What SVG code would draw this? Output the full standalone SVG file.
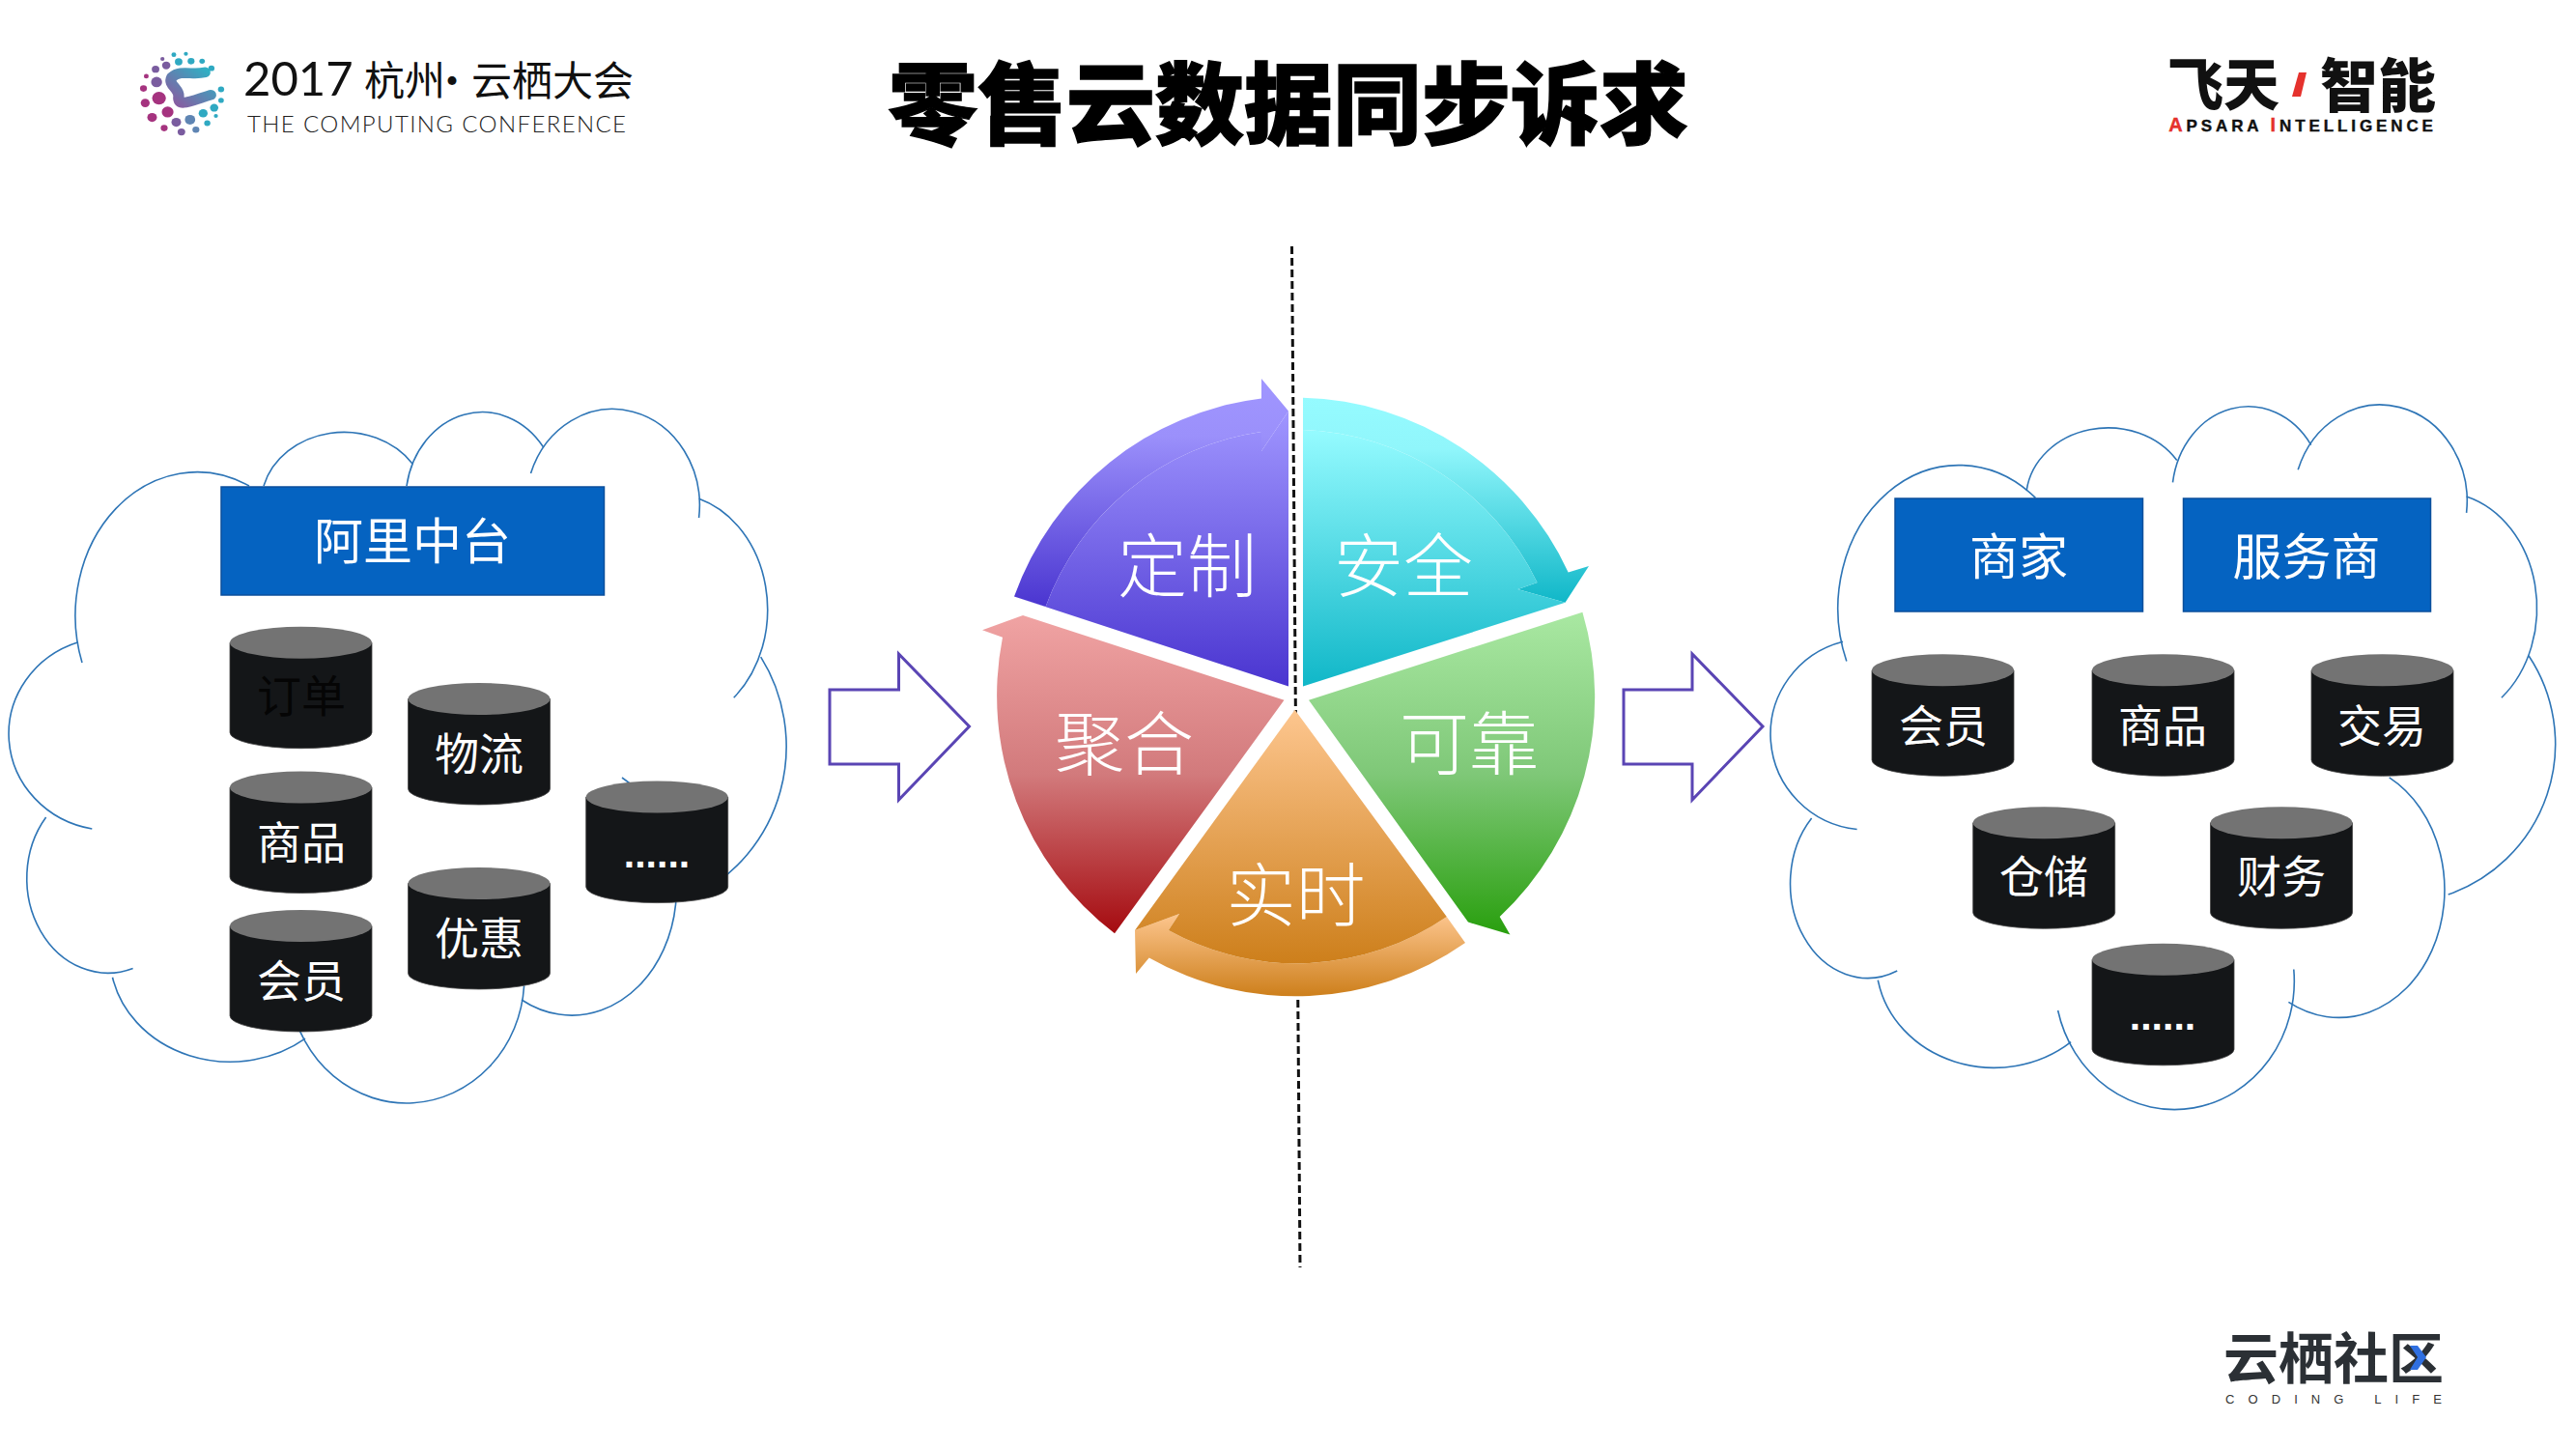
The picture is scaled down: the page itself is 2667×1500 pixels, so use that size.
<svg xmlns="http://www.w3.org/2000/svg" width="2667" height="1500" viewBox="0 0 2667 1500">
<style>
text{font-family:"Noto Sans CJK SC","Noto Sans",sans-serif;text-anchor:middle}
.cloudline{fill:none;stroke:#2e75b6;stroke-width:1.6}
.box{fill:#0563c1;stroke:#0b4f9c;stroke-width:1.5}
.boxt{font-size:51px;fill:#fff;dominant-baseline:central}
.cylt{font-size:46px;fill:#fff;dominant-baseline:central}
.pie{font-size:72px;fill:#fff;font-weight:300;dominant-baseline:central}
.arrow{fill:#fff;stroke:#5a45b4;stroke-width:3}
.dots{font-size:41px;fill:#fff;font-family:"Liberation Sans",sans-serif;font-weight:700}
</style>
<defs>
<g id="cyl"><path d="M0,16.5V109.5A73.5,16.5 0 0 0 147,109.5V16.5Z" fill="#141618" stroke="#444" stroke-width=".8"/><ellipse cx="73.5" cy="16.5" rx="73.5" ry="16.5" fill="#737373"/></g>
<linearGradient id="pA" x1="0" y1="0" x2="0" y2="1"><stop offset="0" stop-color="#a096ff"/><stop offset="1" stop-color="#4a35d0"/></linearGradient>
<linearGradient id="pA2" x1="0" y1="0" x2="0" y2="1"><stop offset="0" stop-color="#a096ff"/><stop offset=".25" stop-color="#9b90fb"/><stop offset="1" stop-color="#4a35d0"/></linearGradient>
<linearGradient id="pB" x1="0" y1="0" x2="0" y2="1"><stop offset="0" stop-color="#95fbff"/><stop offset="1" stop-color="#10b7c8"/></linearGradient>
<linearGradient id="pB2" x1="0" y1="0" x2="0" y2="1"><stop offset="0" stop-color="#95fbff"/><stop offset=".25" stop-color="#90f6fb"/><stop offset="1" stop-color="#10b7c8"/></linearGradient>
<linearGradient id="pC" x1="0" y1="0" x2="0" y2="1"><stop offset="0" stop-color="#a9e8a2"/><stop offset=".5" stop-color="#7fc878"/><stop offset="1" stop-color="#299f0e"/></linearGradient>
<linearGradient id="pD" x1="0" y1="0" x2="0" y2="1"><stop offset="0" stop-color="#fdc68f"/><stop offset="1" stop-color="#cd7f1b"/></linearGradient>
<linearGradient id="pE" x1="0" y1="0" x2="0" y2="1"><stop offset="0" stop-color="#f0a3a3"/><stop offset=".5" stop-color="#d27a7c"/><stop offset="1" stop-color="#a50b10"/></linearGradient>
<linearGradient id="lg" x1="0" y1="1" x2="1" y2="0"><stop offset="0" stop-color="#8a5aa0"/><stop offset="1" stop-color="#2fb0c4"/></linearGradient>
</defs>
<rect width="2667" height="1500" fill="#fff"/>

<g id="logo-conference">
<g transform="translate(120,30) scale(.357,.333)">
<path d="M258,135C220,145 190,125 162,150C150,175 185,185 182,210C178,245 215,225 275,205" fill="none" stroke="url(#lg)" stroke-width="32" stroke-linecap="round" stroke-linejoin="round"/>
<g fill="#2fa9c2"><circle cx="168" cy="80" r="7"/><circle cx="203" cy="77" r="6"/><circle cx="182" cy="102" r="11"/><circle cx="218" cy="100" r="10"/><circle cx="250" cy="100" r="8"/><circle cx="277" cy="122" r="9"/><circle cx="305" cy="188" r="9"/><circle cx="305" cy="222" r="8"/><circle cx="285" cy="245" r="12"/><circle cx="253" cy="262" r="13"/><circle cx="290" cy="270" r="6"/><circle cx="265" cy="293" r="9"/></g>
<g fill="#a5337f"><circle cx="88" cy="147" r="7"/><circle cx="80" cy="185" r="10"/><circle cx="125" cy="215" r="20"/><circle cx="85" cy="230" r="13"/><circle cx="150" cy="258" r="17"/><circle cx="105" cy="275" r="14"/><circle cx="140" cy="308" r="10"/></g>
<g fill="#7a5c9f"><circle cx="135" cy="93" r="6"/><circle cx="146" cy="113" r="12"/><circle cx="115" cy="125" r="11"/><circle cx="118" cy="165" r="16"/><circle cx="175" cy="290" r="14"/><circle cx="190" cy="320" r="11"/></g>
<g fill="#5f85b3"><circle cx="215" cy="282" r="15"/><circle cx="232" cy="313" r="10"/></g>
</g>
<text y="99" font-size="42" fill="#111" style="text-anchor:start"><tspan x="252" font-size="49" style="font-family:Lato,sans-serif" font-weight="400">2017</tspan><tspan x="377">杭州</tspan><tspan x="447">·</tspan><tspan x="488">云栖大会</tspan></text>
<text x="452" y="137" font-size="24" fill="#222" font-weight="300" textLength="392" style="font-family:Lato,sans-serif">THE COMPUTING CONFERENCE</text>
</g>

<text id="title" x="1334" y="101" font-size="92" font-weight="900" fill="#000" stroke="#000" stroke-width="1.5" dominant-baseline="central">零售云数据同步诉求</text>

<g id="logo-apsara">
<text x="2302" y="84" font-size="58" font-weight="900" fill="#111" dominant-baseline="central">飞天</text>
<polygon points="2380,75 2388,75 2382,100 2373,100" fill="#e5322d"/>
<text x="2462" y="84" font-size="60" font-weight="900" fill="#111" dominant-baseline="central">智能</text>
<text x="2384" y="136" font-size="17" font-weight="700" fill="#111" stroke="#111" stroke-width=".4" style="font-family:'Liberation Sans',sans-serif" letter-spacing="3.9"><tspan fill="#e5322d" stroke="#e5322d" font-size="20">A</tspan>PSARA <tspan fill="#e5322d" stroke="#e5322d" font-size="20">I</tspan>NTELLIGENCE</text>
</g>

<g id="logo-yunqi">
<text x="2416" y="1402" font-size="57" font-weight="700" fill="#2b3035" dominant-baseline="central">云栖社区</text>
<polygon points="2495,1393 2503,1393 2512,1405 2503,1418 2495,1418 2503,1405" fill="#2f6fe0"/>
<text x="2416" y="1453" font-size="13" fill="#333" style="font-family:'Liberation Sans',sans-serif" textLength="224">CODING LIFE</text>
</g>

<g id="connectors">
<line x1="1337.5" y1="255" x2="1346" y2="1312" stroke="#111" stroke-width="3" stroke-dasharray="8 4"/>
<path id="arrow-left" class="arrow" d="M859,714H930.5V677L1003.5,752L930.5,828V791H859Z"/>
<path id="arrow-right" class="arrow" d="M1681,714H1752V677L1825,752L1752,828V791H1681Z"/>
</g>

<g id="cloud-left" class="cloudline">
<path d="M85,686A126,148.5 0 0 1 258,503"/>
<path d="M273,503A86,75 0 0 1 427,480"/>
<path d="M421,503A79.5,92 0 0 1 562.7,463"/>
<path d="M549.5,490A90,100 0 0 1 723.6,536"/>
<path d="M723.7,516.3A100,120 0 0 1 759.7,722.3"/>
<path d="M787.7,680.2A164,170 0 0 1 721,926"/>
<path d="M644,805A107.5,130 0 1 1 540,1035"/>
<path d="M542.6,1020.5A122,130 0 0 1 300.8,1035"/>
<path d="M316,1075.2A124.5,110 0 0 1 116.5,1011.7"/>
<path d="M137.6,1002.5A84,98 0 0 1 47.6,846"/>
<path d="M95.3,858A105,100 0 0 1 81,664.7"/>
</g>

<g id="cloud-right" class="cloudline">
<path d="M1911.8,684.5A125,148 0 0 1 2107.4,515.4"/>
<path d="M2098.2,507.6A85,74 0 0 1 2253.8,476.6"/>
<path d="M2249.5,499.4A79,92 0 0 1 2392.7,460.6"/>
<path d="M2379.2,486.3A90,100 0 0 1 2553.6,530.9"/>
<path d="M2553.6,513.9A100,120 0 0 1 2589.9,722.3"/>
<path d="M2618,678.7A165,165 0 0 1 2534.7,926"/>
<path d="M2473.7,804.8A107.5,130 0 1 1 2369.4,1037.4"/>
<path d="M2374.8,1003.5A124,133 0 0 1 2130.6,1046"/>
<path d="M2144.1,1078.6A122,110 0 0 1 1944.3,1014.6"/>
<path d="M1964.2,1005A80,98 0 0 1 1875.6,846.9"/>
<path d="M1922.6,858.5A100,99 0 0 1 1908,664.2"/>
</g>

<g id="pie">
<g id="seg-dingzhi">
<path fill="url(#pA2)" d="M1050,617.6A312,312 0 0 1 1306,412.5L1306,392L1334,425.5L1306,467L1306,447A280,280 0 0 0 1082.6,628Z"/>
<path fill="url(#pA)" d="M1334,710.4L1050,617.6L1082.6,628A280,280 0 0 1 1306,447L1306,467L1334,425.5Z"/>
<text class="pie" x="1229" y="580">定制</text>
</g>
<g id="seg-anquan">
<path fill="url(#pB2)" d="M1349,411.7A312,312 0 0 1 1623.7,592.5L1645,586L1620.5,623.7L1571.4,610L1591.5,603A280,280 0 0 0 1349,445Z"/>
<path fill="url(#pB)" d="M1349,710.4L1349,445A280,280 0 0 1 1591.5,603L1571.4,610L1620.5,623.7Z"/>
<text class="pie" x="1453" y="580">安全</text>
</g>
<g id="seg-kekao">
<path fill="url(#pC)" d="M1355,724.8L1638.4,633.7A311,311 0 0 1 1552.7,949L1563.4,967.6L1520,954.6Z"/>
<text class="pie" x="1521" y="764">可靠</text>
</g>
<g id="seg-shishi">
<path fill="url(#pD)" d="M1497.8,949L1517,976A307,307 0 0 1 1189.7,991.4L1176,1008L1175,963L1221,946L1209.8,963A274,274 0 0 0 1497.8,949Z"/>
<path fill="url(#pD)" d="M1340.6,734.7L1497.8,949A274,274 0 0 1 1209.8,963L1221,946L1175,963Z"/>
<text class="pie" x="1341.5" y="921">实时</text>
</g>
<g id="seg-juhe">
<path fill="url(#pE)" d="M1329.5,724.8L1059,637L1017,652.3L1038,659.7A310,310 0 0 0 1154,966.3Z"/>
<text class="pie" x="1164" y="764">聚合</text>
</g>
</g>

<g id="n-alibaba"><rect class="box" x="229" y="504" width="396.5" height="112"/><text class="boxt" x="427" y="557">阿里中台</text></g>
<g id="n-l-order"><use href="#cyl" x="238" y="648.7"/><text class="cylt" x="312" y="717" style="fill:#050505">订单</text></g>
<g id="n-l-logistics"><use href="#cyl" x="422.5" y="707"/><text class="cylt" x="496" y="776.5">物流</text></g>
<g id="n-l-goods"><use href="#cyl" x="238" y="798.5"/><text class="cylt" x="312" y="868.5">商品</text></g>
<g id="n-l-member"><use href="#cyl" x="238" y="942"/><text class="cylt" x="312" y="1012">会员</text></g>
<g id="n-l-promo"><use href="#cyl" x="422.5" y="898"/><text class="cylt" x="496" y="967.5">优惠</text></g>
<g id="n-l-more"><use href="#cyl" x="606.7" y="808.6"/><text class="dots" x="680" y="898">......</text></g>

<g id="n-merchant"><rect class="box" x="1962" y="516" width="256.5" height="117"/><text class="boxt" x="2090" y="572.5">商家</text></g>
<g id="n-provider"><rect class="box" x="2260.5" y="516" width="256" height="117"/><text class="boxt" x="2388" y="572.5">服务商</text></g>
<g id="n-r-member"><use href="#cyl" x="1938" y="677.3"/><text class="cylt" x="2012" y="747.5">会员</text></g>
<g id="n-r-goods"><use href="#cyl" x="2166" y="677.3"/><text class="cylt" x="2239" y="747.5">商品</text></g>
<g id="n-r-trade"><use href="#cyl" x="2393" y="677.3"/><text class="cylt" x="2466" y="747.5">交易</text></g>
<g id="n-r-storage"><use href="#cyl" x="2042.7" y="835.3"/><text class="cylt" x="2116" y="904">仓储</text></g>
<g id="n-r-finance"><use href="#cyl" x="2288.5" y="835.3"/><text class="cylt" x="2362" y="904">财务</text></g>
<g id="n-r-more"><use href="#cyl" x="2166" y="976.8"/><text class="dots" x="2239" y="1066">......</text></g>
</svg>
